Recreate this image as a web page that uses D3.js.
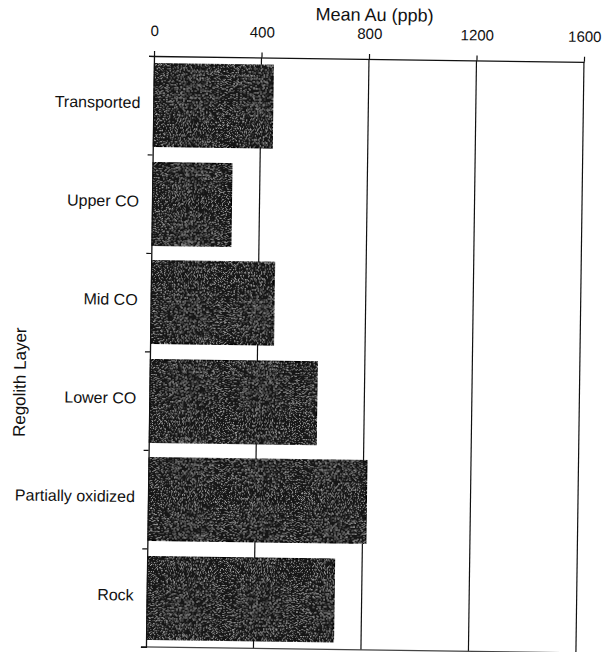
<!DOCTYPE html>
<html>
<head>
<meta charset="utf-8">
<script src="https://cdn.jsdelivr.net/npm/d3@7/dist/d3.min.js"></script>
<style>
  html, body { margin: 0; padding: 0; background: #fff; }
  svg { display: block; }
  text { font-family: "Liberation Sans", Arial, sans-serif; fill: #111; }
</style>
</head>
<body>
<svg id="chart" width="609" height="652"></svg>
<script>
// Mean gold concentration per regolith layer
const layers = ["Transported", "Upper CO", "Mid CO", "Lower CO", "Partially oxidized", "Rock"];
const meanAu = [445, 296, 458, 624, 813, 697];
const xTicks = [0, 400, 800, 1200, 1600];

const W = 609, H = 652;
const plot = { left: 154, right: 584, top: 56, bottom: 647 };

const svg = d3.select("#chart");
svg.append("rect").attr("width", W).attr("height", H).attr("fill", "#fff");

// speckled dark fill for the bars
const defs = svg.append("defs");
const f = defs.append("filter").attr("id", "speckle")
  .attr("x", 0).attr("y", 0).attr("width", 1).attr("height", 1);
f.append("feTurbulence").attr("type", "fractalNoise").attr("baseFrequency", 1.3)
  .attr("numOctaves", 1).attr("seed", 7).attr("result", "noise");
f.append("feColorMatrix").attr("in", "noise").attr("type", "matrix")
  .attr("values", "0 0 0 0 0.62  0 0 0 0 0.62  0 0 0 0 0.62  3.2 0 0 0 -1.75")
  .attr("result", "dots");
f.append("feComposite").attr("in", "dots").attr("in2", "SourceGraphic")
  .attr("operator", "in").attr("result", "dotsIn");
const merge = f.append("feMerge");
merge.append("feMergeNode").attr("in", "SourceGraphic");
merge.append("feMergeNode").attr("in", "dotsIn");

// the whole figure sits at a slight tilt
const g = svg.append("g").attr("transform", `rotate(0.78, ${plot.left}, ${plot.top})`);

const x = d3.scaleLinear().domain([0, 1600]).range([plot.left, plot.right]);
const y = d3.scaleBand().domain(layers).range([plot.top, plot.bottom])
  .paddingInner(0.16).paddingOuter(0.08);
const yEdges = d3.scaleLinear().domain([0, layers.length]).range([plot.top, plot.bottom]);

// vertical gridlines
g.append("g").selectAll("line").data(xTicks.slice(1)).join("line")
  .attr("x1", d => x(d)).attr("x2", d => x(d))
  .attr("y1", plot.top).attr("y2", plot.bottom)
  .attr("stroke", "#111").attr("stroke-width", 1.2);

// bottom border
g.append("line")
  .attr("x1", plot.left - 5).attr("x2", plot.right)
  .attr("y1", plot.bottom).attr("y2", plot.bottom)
  .attr("stroke", "#444").attr("stroke-width", 1.2);

// bars
g.append("g").selectAll("rect").data(layers).join("rect")
  .attr("x", x(0))
  .attr("y", d => y(d))
  .attr("width", (d, i) => x(meanAu[i]) - x(0))
  .attr("height", y.bandwidth())
  .attr("fill", "#141414")
  .attr("stroke", "#000").attr("stroke-width", 1.5)
  .attr("filter", "url(#speckle)");

// top value axis
const xAxis = g.append("g").attr("transform", `translate(0, ${plot.top})`)
  .call(d3.axisTop(x).tickValues(xTicks).tickFormat(d3.format("d"))
    .tickSize(5).tickSizeOuter(0).tickPadding(15));
xAxis.select(".domain").attr("stroke", "#111").attr("stroke-width", 1.3);
xAxis.selectAll(".tick line").attr("stroke", "#111").attr("stroke-width", 1.2);
xAxis.selectAll(".tick text").attr("font-size", 15)
  .style("font-family", "'Liberation Sans', Arial, sans-serif").attr("fill", "#111");

// left category axis with ticks between categories
const yAxis = g.append("g").attr("transform", `translate(${plot.left}, 0)`)
  .call(d3.axisLeft(yEdges).tickValues(d3.range(layers.length + 1)).tickFormat("").tickSize(5).tickSizeOuter(5));
yAxis.select(".domain").attr("stroke", "#111").attr("stroke-width", 1.3);
yAxis.selectAll(".tick line").attr("stroke", "#111").attr("stroke-width", 1.2);

// category labels
g.append("g").selectAll("text").data(layers).join("text")
  .attr("x", plot.left - 13)
  .attr("y", d => y(d) + y.bandwidth() / 2 + 3)
  .attr("text-anchor", "end")
  .attr("font-size", 16)
  .text(d => d);

// axis titles
g.append("text")
  .attr("x", 374).attr("y", 18)
  .attr("text-anchor", "middle").attr("font-size", 18)
  .text("Mean Au (ppb)");

g.append("text")
  .attr("transform", "translate(30, 384) rotate(-90)")
  .attr("text-anchor", "middle").attr("font-size", 17)
  .text("Regolith Layer");
</script>
</body>
</html>
